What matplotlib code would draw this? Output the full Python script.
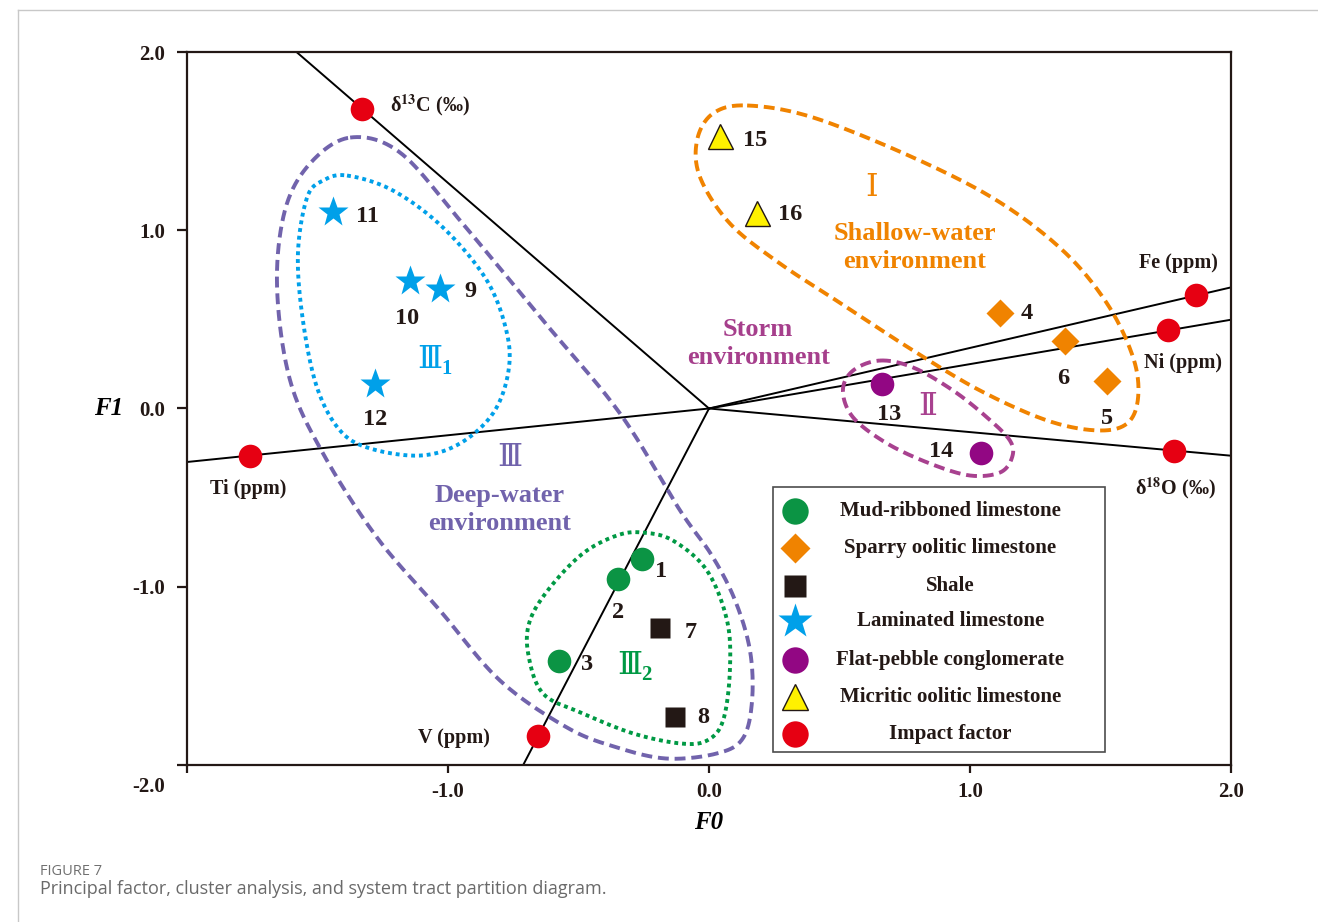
import numpy as np
import matplotlib.pyplot as plt
from matplotlib.patches import Rectangle
from matplotlib.transforms import ScaledTranslation

plt.rcParams['font.family'] = ['Liberation Serif', 'DejaVu Serif']
plt.rcParams['mathtext.fontset'] = 'stix'

# ---- sample scores (F0, F1) ----
mud_x = [-0.257, -0.349, -0.575]
mud_y = [-0.847, -0.959, -1.419]
mud_id = ['1', '2', '3']

sparry_x = [1.115, 1.525, 1.364]
sparry_y = [0.533, 0.157, 0.376]
sparry_id = ['4', '5', '6']

shale_x = [-0.188, -0.130]
shale_y = [-1.234, -1.728]
shale_id = ['7', '8']

lam_x = [-1.031, -1.146, -1.441, -1.280]
lam_y = [0.673, 0.718, 1.100, 0.135]
lam_id = ['9', '10', '11', '12']

flat_x = [0.663, 1.042]
flat_y = [0.135, -0.247]
flat_id = ['13', '14']

micr_x = [0.042, 0.184]
micr_y = [1.526, 1.094]
micr_id = ['15', '16']

# impact factor loadings
imp_x = [-1.330, -1.759, -0.655, 1.866, 1.759, 1.782]
imp_y = [1.683, -0.264, -1.840, 0.634, 0.438, -0.236]
imp_names = [r'$\mathregular{\delta}^{\mathbf{13}}$C (‰)', 'Ti (ppm)', 'V (ppm)',
             'Fe (ppm)', 'Ni (ppm)', r'$\mathregular{\delta}^{\mathbf{18}}$O (‰)']

# cluster outlines (F0, F1)
group3 = [(-1.375, 1.520), (-1.184, 1.436), (-0.954, 1.055), (-0.636, 0.494),
          (-0.341, -0.028), (-0.111, -0.572), (0.011, -0.825), (0.100, -1.077),
          (0.157, -1.358), (0.165, -1.638), (0.130, -1.850), (0.031, -1.935),
          (-0.161, -1.964), (-0.352, -1.902), (-0.544, -1.790), (-0.801, -1.526),
          (-1.031, -1.133), (-1.272, -0.724), (-1.479, -0.252), (-1.605, 0.157),
          (-1.655, 0.679), (-1.625, 1.111), (-1.529, 1.374)]
group3_1 = [(-1.387, 1.307), (-1.211, 1.223), (-1.019, 1.015), (-0.851, 0.718),
            (-0.774, 0.421), (-0.770, 0.196), (-0.828, -0.028), (-0.954, -0.196),
            (-1.107, -0.264), (-1.299, -0.224), (-1.414, -0.123), (-1.502, 0.118),
            (-1.556, 0.494), (-1.575, 0.870), (-1.540, 1.184), (-1.479, 1.279)]
group3_2 = [(-0.253, -0.696), (-0.138, -0.741), (-0.008, -0.909), (0.069, -1.189),
            (0.080, -1.470), (0.054, -1.750), (-0.008, -1.863), (-0.111, -1.879),
            (-0.291, -1.823), (-0.483, -1.711), (-0.636, -1.599), (-0.693, -1.374),
            (-0.686, -1.189), (-0.609, -1.004), (-0.483, -0.813), (-0.352, -0.712)]
group1 = [(0.146, 1.700), (0.398, 1.633), (0.782, 1.408), (1.103, 1.167),
          (1.356, 0.886), (1.525, 0.589), (1.625, 0.286), (1.644, 0.062),
          (1.602, -0.084), (1.487, -0.123), (1.295, -0.067), (1.038, 0.101),
          (0.782, 0.325), (0.529, 0.567), (0.272, 0.813), (0.080, 1.038),
          (-0.034, 1.296), (-0.046, 1.504), (0.015, 1.655)]
group2 = [(0.655, 0.269), (0.782, 0.230), (0.935, 0.101), (1.065, -0.050),
          (1.153, -0.180), (1.161, -0.275), (1.115, -0.359), (1.000, -0.376),
          (0.847, -0.309), (0.682, -0.196), (0.552, -0.050), (0.513, 0.101),
          (0.552, 0.213)]

GREEN = '#0b9444'
ORANGE = '#f08300'
BLACK = '#231815'
BLUE = '#00a0e9'
PURPLE = '#920783'
YELLOW = '#fff100'
RED = '#e60012'
LAVENDER = '#7163ac'
MAGENTA = '#a8418f'


def smooth_closed(pts, n=40):
    # closed Catmull-Rom spline through the outline points
    P = np.asarray(pts, dtype=float)
    m = len(P)
    t = np.linspace(0, 1, n, endpoint=False)[:, None]
    segs = []
    for i in range(m):
        p0, p1, p2, p3 = P[i - 1], P[i], P[(i + 1) % m], P[(i + 2) % m]
        segs.append(0.5 * (2 * p1 + (-p0 + p2) * t
                           + (2 * p0 - 5 * p1 + 4 * p2 - p3) * t ** 2
                           + (-p0 + 3 * p1 - 3 * p2 + p3) * t ** 3))
    out = np.vstack(segs)
    return np.vstack([out, out[:1]])


fig = plt.figure(figsize=(13.18, 9.22), dpi=100)
ax = fig.add_axes([0.1419, 0.1703, 0.7921, 0.7733])
ax.set_xlim(-2, 2)
ax.set_ylim(-2, 2)

# factor rays from the origin to the frame
for x, y in zip(imp_x, imp_y):
    t = min(2 / abs(x), 2 / abs(y))
    ax.plot([0, t * x], [0, t * y], color='black', lw=1.4, zorder=2)

# cluster outlines
dashed = dict(lw=2.8, dashes=(2.8, 1.5), dash_capstyle='butt', zorder=3)
dotted = dict(lw=2.8, dashes=(1.0, 1.0), dash_capstyle='butt', zorder=3)
for pts, col, sty in [(group3, LAVENDER, dashed), (group1, ORANGE, dashed),
                      (group2, MAGENTA, dashed), (group3_1, BLUE, dotted),
                      (group3_2, '#009944', dotted)]:
    c = smooth_closed(pts)
    ax.plot(c[:, 0], c[:, 1], color=col, **sty)

# samples
ax.plot(mud_x, mud_y, 'o', ms=17, color=GREEN, mec='none', zorder=5)
ax.plot(sparry_x, sparry_y, 'D', ms=14.5, color=ORANGE, mec='none', zorder=5)
ax.plot(shale_x, shale_y, 's', ms=15, color=BLACK, mec='none', zorder=5)
ax.plot(lam_x, lam_y, '*', ms=23, color=BLUE, mec='none', zorder=5)
ax.plot(flat_x, flat_y, 'o', ms=17, color=PURPLE, mec='none', zorder=5)
ax.plot(micr_x, micr_y, '^', ms=18, color=YELLOW, mec=BLACK, mew=1.0, zorder=5)
ax.plot(imp_x, imp_y, 'o', ms=17, color=RED, mec='none', zorder=5)

# sample numbers, offsets in points
num_off = {'1': (14, -9), '2': (0, -24), '3': (20, -2), '4': (19, 0),
           '5': (0, -27), '6': (-1, -27), '7': (22, -3), '8': (20, -1),
           '9': (22, -2), '10': (-2, -27), '11': (25, -3), '12': (0, -25),
           '13': (5, -22), '14': (-29, 1), '15': (25, -3), '16': (24, -1)}
for xs, ys, ids in [(mud_x, mud_y, mud_id), (sparry_x, sparry_y, sparry_id),
                    (shale_x, shale_y, shale_id), (lam_x, lam_y, lam_id),
                    (flat_x, flat_y, flat_id), (micr_x, micr_y, micr_id)]:
    for x, y, s in zip(xs, ys, ids):
        ax.annotate(s, (x, y), xytext=num_off[s], textcoords='offset points',
                    ha='center', va='center', fontsize=17.5, fontweight='bold',
                    color=BLACK, zorder=6)

# factor names
name_pos = [(-1.222, 1.70, 'left'), (-1.766, -0.449, 'center'),
            (-0.839, -1.846, 'right'), (1.797, 0.819, 'center'),
            (1.816, 0.258, 'center'), (1.789, -0.449, 'center')]
for (x, y, ha), s in zip(name_pos, imp_names):
    ax.text(x, y, s, ha=ha, va='center', fontsize=14.5, fontweight='bold',
            color=BLACK, zorder=6)

# cluster labels
big = dict(ha='center', va='center', fontsize=19, fontweight='bold',
           linespacing=1.28, zorder=6)
roman = dict(ha='center', va='center', fontsize=23, zorder=6)
sub = dict(xytext=(12, -6), textcoords='offset points', ha='center',
           va='center', fontsize=15, fontweight='bold', zorder=6)
ax.text(0.621, 1.234, 'Ⅰ', color=ORANGE, **roman)
ax.text(0.789, 0.903, 'Shallow-water\nenvironment', color=ORANGE, **big)
ax.text(0.188, 0.365, 'Storm\nenvironment', color='#a63f8c', **big)
ax.text(0.839, 0.006, 'Ⅱ', color=MAGENTA, **roman)
ax.text(-1.070, 0.270, 'Ⅲ', color=BLUE, **roman)
ax.annotate('1', (-1.070, 0.270), color=BLUE, **sub)
ax.text(-0.762, -0.281, 'Ⅲ', color=LAVENDER, **roman)
ax.text(-0.801, -0.567, 'Deep-water\nenvironment', color=LAVENDER, **big)
ax.text(-0.305, -1.450, 'Ⅲ', color='#009944', **roman)
ax.annotate('2', (-0.305, -1.450), color='#009944', **sub)

# legend
leg_labels = ['Mud-ribboned limestone', 'Sparry oolitic limestone', 'Shale',
              'Laminated limestone', 'Flat-pebble conglomerate',
              'Micritic oolitic limestone', 'Impact factor']
leg_marks = [('o', 19, GREEN, 'none'), ('D', 15.5, ORANGE, 'none'),
             ('s', 16, BLACK, 'none'), ('*', 26, BLUE, 'none'),
             ('o', 19, PURPLE, 'none'), ('^', 19, YELLOW, BLACK),
             ('o', 19, RED, 'none')]
ax.add_patch(Rectangle((0.561, 0.018), 0.318, 0.372, transform=ax.transAxes,
                       fc='white', ec='#4d4d4d', lw=1.2, zorder=7))
rows = [0.356, 0.304, 0.251, 0.202, 0.147, 0.095, 0.043]
for yy, (m, ms, fc, ec), lab in zip(rows, leg_marks, leg_labels):
    ax.plot([0.582], [yy], m, ms=ms, color=fc, mec=ec, mew=1.0,
            transform=ax.transAxes, zorder=8, clip_on=False)
    ax.text(0.731, yy, lab, transform=ax.transAxes, ha='center', va='center',
            fontsize=15, fontweight='bold', color=BLACK, zorder=8)

# axes styling
for sp in ax.spines.values():
    sp.set_linewidth(1.6)
    sp.set_color(BLACK)
ax.set_xticks([-2, -1, 0, 1, 2])
ax.set_xticklabels(['', '-1.0', '0.0', '1.0', '2.0'])
ax.set_yticks([-2, -1, 0, 1, 2])
ax.set_yticklabels(['-2.0', '-1.0', '0.0', '1.0', '2.0'])
ax.tick_params(axis='x', direction='out', length=6, width=1.6, pad=6,
               labelsize=15, colors=BLACK)
ax.tick_params(axis='y', direction='out', length=7, width=1.6, pad=9,
               labelsize=15, colors=BLACK)
for lab in ax.get_xticklabels() + ax.get_yticklabels():
    lab.set_fontweight('bold')
low = ax.get_yticklabels()[0]
low.set_transform(low.get_transform()
                  + ScaledTranslation(0, -14 / 72, fig.dpi_scale_trans))

ax.set_xlabel('F0', fontsize=18, fontweight='bold', fontstyle='italic')
ax.set_ylabel('F1', fontsize=18, fontweight='bold', fontstyle='italic',
              rotation=0, va='center', ha='center')
ax.xaxis.set_label_coords(0.5, -0.08)
ax.yaxis.set_label_coords(-0.075, 0.5)
ax.xaxis.label.set_va('center')

# page frame and caption
fig.add_artist(plt.Line2D([0.0137, 0.0137], [0.0, 0.989], color='#c8c8c8', lw=1))
fig.add_artist(plt.Line2D([0.0137, 1.0], [0.989, 0.989], color='#c8c8c8', lw=1))
fig.text(0.0304, 0.0553, 'FIGURE 7', fontsize=10.5, color='#707070',
         family=['Open Sans', 'DejaVu Sans'], va='center')
fig.text(0.0304, 0.0358,
         'Principal factor, cluster analysis, and system tract partition diagram.',
         fontsize=13, color='#6a6a6a', family=['Open Sans', 'DejaVu Sans'],
         va='center')

fig.savefig('out.png', dpi=100)
